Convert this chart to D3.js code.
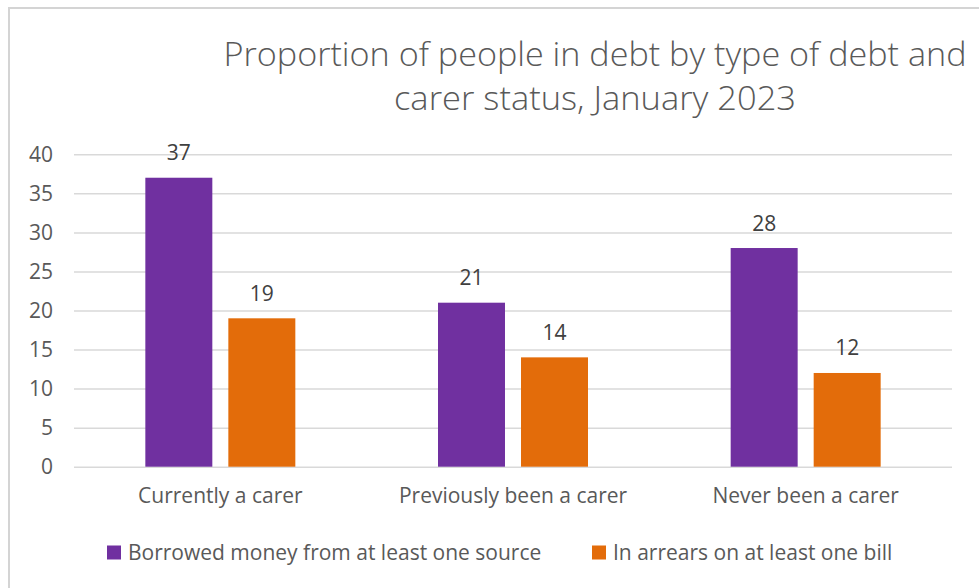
<!DOCTYPE html>
<html>
<head>
<meta charset="utf-8">
<script src="https://cdn.jsdelivr.net/npm/d3@7"></script>
<style>
  html, body { margin: 0; padding: 0; background: #ffffff; }
  svg { display: block; }
  text { font-family: "Open Sans", "Liberation Sans", sans-serif; }
</style>
</head>
<body>
<svg id="chart" width="979" height="588"></svg>
<script>
// Chart data
const categories = ["Currently a carer", "Previously been a carer", "Never been a carer"];
const seriesNames = ["Borrowed money from at least one source", "In arrears on at least one bill"];
const borrowed = [37, 21, 28];
const arrears = [19, 14, 12];
const yTicks = [0, 5, 10, 15, 20, 25, 30, 35, 40];
const titleLines = ["Proportion of people in debt by type of debt and", "carer status, January 2023"];

const colors = ["#7030A0", "#E36C0A"];
const seriesValues = [borrowed, arrears];

const svg = d3.select("#chart");
const W = 979, H = 588;
const fontSize = 21;

// Chart area frame
svg.append("rect")
  .attr("x", 9).attr("y", 8)
  .attr("width", W + 20).attr("height", H + 20)
  .attr("fill", "#ffffff")
  .attr("stroke", "#d4d4d4")
  .attr("stroke-width", 2);

// Plot area
const plot = { left: 74, right: 952, top: 154.3, bottom: 466.7 };

const y = d3.scaleLinear().domain([0, 40]).range([plot.bottom, plot.top]);

const x0 = d3.scaleBand()
  .domain(categories)
  .range([plot.left, plot.right])
  .padding(0);

const band = x0.bandwidth();
const groupW = band * 0.5125;
const x1 = d3.scaleBand()
  .domain(seriesNames)
  .range([(band - groupW) / 2, (band + groupW) / 2])
  .paddingInner(0.193)
  .paddingOuter(0);

// Gridlines and value axis
const yAxis = d3.axisLeft(y)
  .tickValues(yTicks)
  .tickSize(-(plot.right - plot.left))
  .tickPadding(21)
  .tickFormat(d3.format("d"));

const gy = svg.append("g")
  .attr("transform", `translate(${plot.left},0)`)
  .call(yAxis);
gy.select(".domain").remove();
gy.selectAll(".tick line")
  .attr("stroke", "#d9d9d9")
  .attr("stroke-width", 1.5);
gy.selectAll(".tick text")
  .attr("fill", "#595959")
  .attr("font-size", fontSize)
  .attr("font-family", "'Open Sans', sans-serif");

// Bars
const rows = categories.map((c, i) => ({
  category: c,
  values: seriesNames.map((s, j) => ({ series: s, idx: j, value: seriesValues[j][i] }))
}));

const groups = svg.append("g")
  .selectAll("g")
  .data(rows)
  .join("g")
  .attr("transform", d => `translate(${x0(d.category)},0)`);

groups.selectAll("rect")
  .data(d => d.values)
  .join("rect")
  .attr("x", d => x1(d.series))
  .attr("y", d => y(d.value))
  .attr("width", x1.bandwidth())
  .attr("height", d => y(0) - y(d.value))
  .attr("fill", d => colors[d.idx]);

// Value labels
groups.selectAll("text.val")
  .data(d => d.values)
  .join("text")
  .attr("class", "val")
  .attr("x", d => x1(d.series) + x1.bandwidth() / 2)
  .attr("y", d => y(d.value) - 17.5)
  .attr("text-anchor", "middle")
  .attr("font-size", fontSize)
  .attr("fill", "#404040")
  .text(d => d.value);

// Category axis labels
const xAxis = d3.axisBottom(x0).tickSize(0).tickPadding(0);
const gx = svg.append("g")
  .attr("transform", `translate(0,${plot.bottom})`)
  .call(xAxis);
gx.select(".domain").remove();
gx.selectAll(".tick text")
  .attr("dy", null)
  .attr("y", 36.5)
  .attr("fill", "#595959")
  .attr("font-size", fontSize)
  .attr("font-family", "'Open Sans', sans-serif");

// Title
const title = svg.append("g").attr("fill", "#595959");
const titleWidths = [743, 402];
titleLines.forEach((t, i) => {
  title.append("text")
    .attr("x", 595)
    .attr("y", 66 + i * 44)
    .attr("text-anchor", "middle")
    .attr("font-size", 33)
    .attr("font-weight", 300)
    .attr("textLength", titleWidths[i])
    .attr("lengthAdjust", "spacingAndGlyphs")
    .text(t);
});

// Legend
const legendItems = [
  { name: seriesNames[0], color: colors[0], x: 107 },
  { name: seriesNames[1], color: colors[1], x: 592 }
];
const legend = svg.append("g");
legendItems.forEach(item => {
  legend.append("rect")
    .attr("x", item.x).attr("y", 545.5)
    .attr("width", 14).attr("height", 14)
    .attr("fill", item.color);
  legend.append("text")
    .attr("x", item.x + 21)
    .attr("y", 560)
    .attr("font-size", fontSize)
    .attr("fill", "#595959")
    .text(item.name);
});
</script>
</body>
</html>
